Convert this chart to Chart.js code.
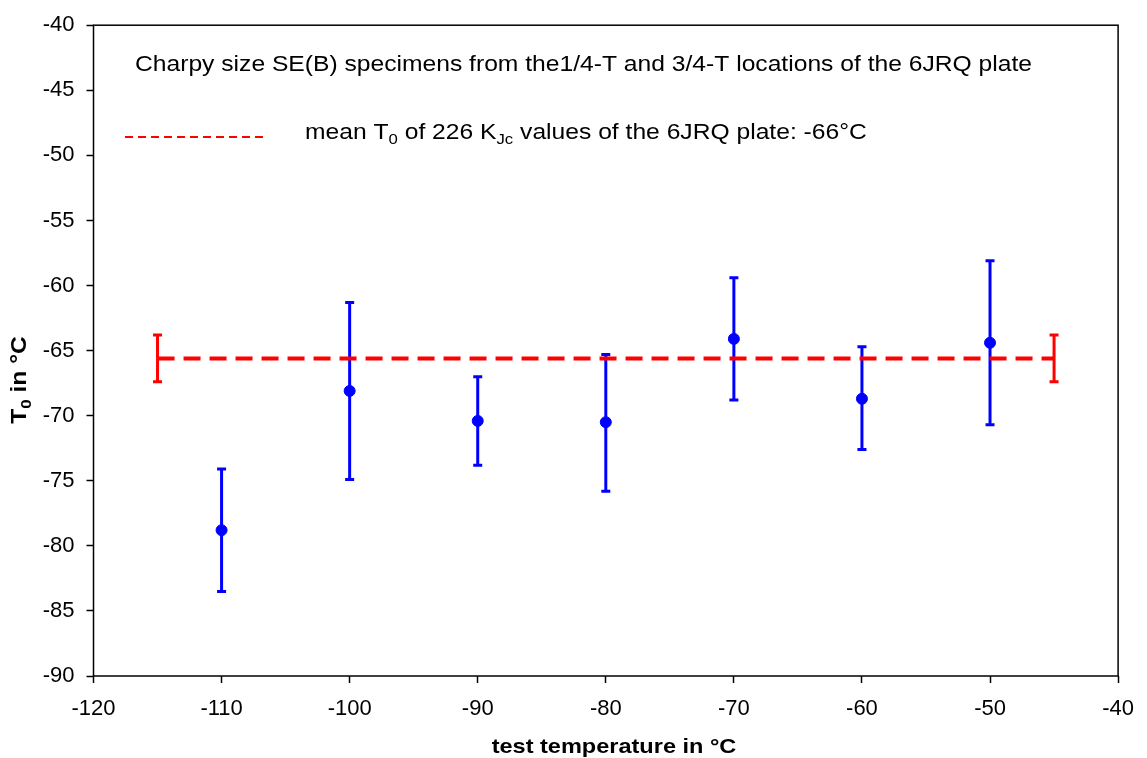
<!DOCTYPE html>
<html lang="en">
<head>
    <meta charset="UTF-8">
    <title>T0 vs test temperature</title>
    <script src="https://cdn.jsdelivr.net/npm/chart.js@4.4.1/dist/chart.umd.min.js"></script>
    <style>
        body { margin: 0; background: #fff; }
        #wrap { width: 1147px; height: 758px; }
    </style>
</head>
<body>
    <div id="wrap">
        <canvas id="myChart" width="1147" height="758"></canvas>
    </div>

    <script>

        // data
        const testTemps = [-110, -100, -90, -80, -70, -60, -50];
        const t0Values = [-78.8, -68.1, -70.4, -70.5, -64.1, -68.7, -64.4];
        const t0Upper = [-74.1, -61.3, -67.0, -65.3, -59.4, -64.7, -58.1];
        const t0Lower = [-83.5, -74.9, -73.8, -75.8, -68.8, -72.6, -70.7];

        const meanTemps = [-115, -45];
        const meanT0 = [-65.6, -65.6];
        const meanUpper = [-63.8, -63.8];
        const meanLower = [-67.4, -67.4];

        const xTicks = [-120, -110, -100, -90, -80, -70, -60, -50, -40];
        const yTicks = [-90, -85, -80, -75, -70, -65, -60, -55, -50, -45, -40];

        const FONT = "'Liberation Sans', Arial, sans-serif";
        const STRETCH = 1.12; // text in the original is a bit wider than Arial

        // draws a string with subscript pieces: parts = [[text, isSub], ...]
        function drawParts(ctx, parts, x, y, size, bold) {
            let w = 0;
            ctx.save();
            ctx.translate(x, y);
            ctx.scale(STRETCH, 1);
            parts.forEach(function (p) {
                ctx.font = (bold ? "bold " : "") + (p[1] ? size * 0.68 : size) + "px " + FONT;
                ctx.fillText(p[0], w, p[1] ? size * 0.22 : 0);
                w += ctx.measureText(p[0]).width;
            });
            ctx.restore();
            return w * STRETCH;
        }
        function partsWidth(ctx, parts, size, bold) {
            let w = 0;
            parts.forEach(function (p) {
                ctx.font = (bold ? "bold " : "") + (p[1] ? size * 0.68 : size) + "px " + FONT;
                w += ctx.measureText(p[0]).width;
            });
            return w * STRETCH;
        }

        const errorBars = {
            id: 'errorBars',
            beforeDatasetsDraw(chart) {
                const ctx = chart.ctx;
                const xs = chart.scales.x, ys = chart.scales.y;
                function bar(x, lo, hi, color, width) {
                    const px = xs.getPixelForValue(x);
                    const p1 = ys.getPixelForValue(lo), p2 = ys.getPixelForValue(hi);
                    ctx.strokeStyle = color;
                    ctx.lineWidth = width;
                    ctx.beginPath();
                    ctx.moveTo(px, p1); ctx.lineTo(px, p2);
                    ctx.moveTo(px - 4.5, p1); ctx.lineTo(px + 4.5, p1);
                    ctx.moveTo(px - 4.5, p2); ctx.lineTo(px + 4.5, p2);
                    ctx.stroke();
                }
                ctx.save();
                for (let i = 0; i < testTemps.length; i++) {
                    bar(testTemps[i], t0Lower[i], t0Upper[i], '#0000ff', 3);
                }
                for (let i = 0; i < meanTemps.length; i++) {
                    bar(meanTemps[i], meanLower[i], meanUpper[i], '#ff0000', 3);
                }
                ctx.restore();
            }
        };

        const decorations = {
            id: 'decorations',
            afterDraw(chart) {
                const ctx = chart.ctx;
                const a = chart.chartArea;
                ctx.save();
                ctx.strokeStyle = '#000';
                ctx.lineWidth = 1.5;
                ctx.strokeRect(a.left, a.top, a.right - a.left, a.bottom - a.top);

                ctx.fillStyle = '#000';
                ctx.textBaseline = 'alphabetic';
                ctx.textAlign = 'left';
                drawParts(ctx, [['Charpy size SE(B) specimens from the1/4-T and 3/4-T locations of the 6JRQ plate', false]],
                    135, 71, 22, false);

                // legend entry
                ctx.strokeStyle = '#ff0000';
                ctx.lineWidth = 2;
                ctx.setLineDash([8, 5]);
                ctx.beginPath();
                ctx.moveTo(125, 137); ctx.lineTo(266, 137);
                ctx.stroke();
                ctx.setLineDash([]);
                drawParts(ctx, [['mean T', false], ['0', true], [' of 226 K', false], ['Jc', true],
                    [' values of the 6JRQ plate: -66°C', false]], 305, 139, 22, false);

                // x axis title
                const xParts = [['test temperature in °C', false]];
                const xw = partsWidth(ctx, xParts, 21, true);
                drawParts(ctx, xParts, 614 - xw / 2, 753, 21, true);

                // y axis title
                const yParts = [['T', false], ['0', true], [' in °C', false]];
                const w = partsWidth(ctx, yParts, 22, true);
                ctx.translate(26, 380);
                ctx.rotate(-Math.PI / 2);
                drawParts(ctx, yParts, -w / 2, 0, 22, true);
                ctx.restore();
            }
        };

        const ctx = document.getElementById('myChart');
        const myChart = new Chart(ctx, {
            type: 'scatter',
            data: {
                datasets: [{
                    label: 'T0',
                    data: testTemps.map(function (t, i) { return { x: t, y: t0Values[i] }; }),
                    backgroundColor: '#0000ff',
                    borderColor: '#0000ff',
                    pointRadius: 5.5,
                    pointHoverRadius: 5.5
                }, {
                    label: 'mean T0',
                    type: 'line',
                    data: meanTemps.map(function (t, i) { return { x: t, y: meanT0[i] }; }),
                    borderColor: '#ff0000',
                    borderWidth: 4,
                    borderDash: [17, 9],
                    pointRadius: 0,
                    fill: false
                }]
            },
            options: {
                responsive: false,
                animation: false,
                layout: {
                    padding: { top: 18, right: 26, left: 0, bottom: 0 }
                },
                plugins: {
                    legend: { display: false },
                    tooltip: { enabled: false }
                },
                scales: {
                    x: {
                        type: 'linear',
                        min: -120,
                        max: -40,
                        afterBuildTicks: function (axis) {
                            axis.ticks = xTicks.map(function (v) { return { value: v }; });
                        },
                        afterFit: function (axis) { axis.height = 82; },
                        grid: {
                            drawOnChartArea: false,
                            drawTicks: true,
                            tickLength: 7,
                            tickColor: '#000',
                            tickWidth: 1.5
                        },
                        border: { display: false },
                        ticks: {
                            color: '#000',
                            padding: 13,
                            font: { family: FONT, size: 22 }
                        }
                    },
                    y: {
                        min: -90,
                        max: -40,
                        afterBuildTicks: function (axis) {
                            axis.ticks = yTicks.map(function (v) { return { value: v }; });
                        },
                        afterFit: function (axis) { axis.width = 93.5; },
                        grid: {
                            drawOnChartArea: false,
                            drawTicks: true,
                            tickLength: 7,
                            tickColor: '#000',
                            tickWidth: 1.5
                        },
                        border: { display: false },
                        ticks: {
                            color: '#000',
                            padding: 12,
                            font: { family: FONT, size: 22 }
                        }
                    }
                }
            },
            plugins: [errorBars, decorations]
        });

    </script>

</body>
</html>
